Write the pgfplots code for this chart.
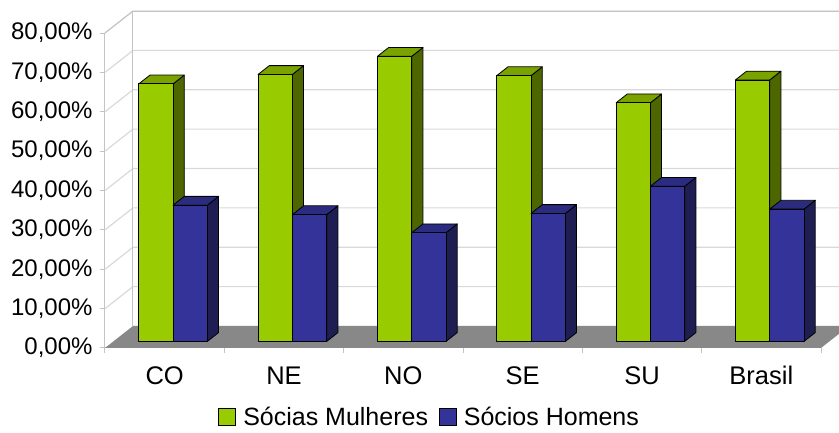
\documentclass[border=0pt]{standalone}
\usepackage{pgfplots}
\pgfplotsset{compat=1.18}
\usepackage{pgfplotstable}
\usepackage{fontspec}
\setmainfont{Liberation Sans}

\definecolor{mulherFront}{HTML}{99CC00}
\definecolor{mulherSide}{HTML}{4D6600}
\definecolor{mulherTop}{HTML}{7AA300}
\definecolor{homemFront}{HTML}{333399}
\definecolor{homemSide}{HTML}{1E1E52}
\definecolor{homemTop}{HTML}{2B2B80}
\definecolor{floorGray}{HTML}{888888}
\definecolor{wallGrid}{HTML}{D9D9D9}
\definecolor{wallEdge}{HTML}{C4C4C4}

% Share of female and male partners by region
\pgfplotstableread{
idx regiao mulheres homens
0   CO     65.4     34.6
1   NE     67.8     32.2
2   NO     72.4     27.6
3   SE     67.5     32.5
4   SU     60.6     39.4
5   Brasil 66.4     33.6
}\socios

% oblique depth of the floor in axis units, depth range of the boxes, box width
\def\dX{0.2346}
\def\dY{5.587}
\def\fA{0.3}
\def\fB{0.7}
\def\bw{0.2875}

% one 3-D box: #1 left edge in the front plane, #2 value, #3 colour prefix
\newcommand\caixa[3]{%
  \pgfmathsetmacro\cxA{#1+\fA*\dX}%
  \pgfmathsetmacro\cxB{\cxA+\bw}%
  \pgfmathsetmacro\cyA{\fA*\dY}%
  \pgfmathsetmacro\cyB{\cyA+#2}%
  \pgfmathsetmacro\cox{(\fB-\fA)*\dX}%
  \pgfmathsetmacro\coy{(\fB-\fA)*\dY}%
  \pgfmathsetmacro\cxC{\cxB+\cox}%
  \pgfmathsetmacro\cxD{\cxA+\cox}%
  \pgfmathsetmacro\cyC{\cyA+\coy}%
  \pgfmathsetmacro\cyD{\cyB+\coy}%
  \edef\caixaplots{%
    \noexpand\addplot[forget plot, fill=#3Side, draw=black, line width=0.8pt, line join=round]
      coordinates {(\cxB,\cyA) (\cxC,\cyC) (\cxC,\cyD) (\cxB,\cyB)} -- cycle;
    \noexpand\addplot[forget plot, fill=#3Top, draw=black, line width=0.8pt, line join=round]
      coordinates {(\cxA,\cyB) (\cxB,\cyB) (\cxC,\cyD) (\cxD,\cyD)} -- cycle;
    \noexpand\addplot[forget plot, fill=#3Front, draw=black, line width=0.8pt, line join=round]
      coordinates {(\cxA,\cyA) (\cxB,\cyA) (\cxB,\cyB) (\cxA,\cyB)} -- cycle;
  }%
  \caixaplots
}

\begin{document}
\begin{tikzpicture}
\useasboundingbox (0,0) rectangle (839pt,433pt);
\begin{axis}[
  at={(105pt,85pt)}, anchor=south west,
  scale only axis, width=716pt, height=315pt,
  xmin=-0.5, xmax=5.5, ymin=0, ymax=80,
  clip=false,
  axis x line*=bottom, axis y line*=left,
  axis line style={wallEdge, line width=1pt},
  tick align=outside,
  xtick={0,...,5},
  xticklabels={CO,NE,NO,SE,SU,Brasil},
  minor xtick={-0.5,0.5,...,5.5},
  every major x tick/.append style={draw=none},
  minor tick length=5pt,
  major tick length=5pt,
  tick style={wallEdge, line width=1pt},
  ytick={0,10,...,80},
  yticklabel={\pgfmathparse{int(\tick)}\pgfmathresult,00\%},
  yticklabel style={font=\fontsize{24}{28}\selectfont, xshift=-4pt},
  xticklabel style={font=\fontsize{25.5}{30}\selectfont, text height=19pt,
    text depth=0pt, yshift=-9pt},
  legend columns=2,
  legend image code/.code={\draw[#1] (0pt,-8.5pt) rectangle (17pt,8.5pt);},
  legend style={draw=none, fill=none, at={(0.457,-0.220)}, anchor=center,
    font=\fontsize{25}{30}\selectfont,
    nodes={inner xsep=7pt, inner ysep=0pt},
    /tikz/every even column/.append style={column sep=4pt}},
]

% side and back walls with their grid lines
\pgfplotsinvokeforeach{10,20,30,40,50,60,70,80}{%
  \pgfmathsetmacro\gxa{-0.5+\dX}%
  \pgfmathsetmacro\gya{#1+\dY}%
  \pgfmathsetmacro\gxb{5.5+\dX}%
  \edef\gridplot{\noexpand\addplot[forget plot, wallGrid, line width=1.2pt]
    coordinates {(-0.5,#1) (\gxa,\gya) (\gxb,\gya)};}%
  \gridplot
}
\pgfmathsetmacro\gxa{-0.5+\dX}
\pgfmathsetmacro\gya{\dY}
\pgfmathsetmacro\gyb{80+\dY}
\pgfmathsetmacro\gxb{5.5+\dX}
\edef\wallplots{%
  \noexpand\addplot[forget plot, wallEdge, line width=1pt]
    coordinates {(\gxa,\gya) (\gxa,\gyb) (\gxb,\gyb)};
  \noexpand\addplot[forget plot, wallEdge, line width=1pt]
    coordinates {(-0.5,80) (\gxa,\gyb)};
  \noexpand\addplot[forget plot, fill=floorGray, draw=none]
    coordinates {(-0.5,0) (5.5,0) (\gxb,\gya) (\gxa,\gya)} -- cycle;
}
\wallplots

% boxes: female partners on the left, male partners on the right of each region
\pgfplotsinvokeforeach{0,...,5}{%
  \pgfplotstablegetelem{#1}{mulheres}\of\socios
  \caixa{#1-\bw}{\pgfplotsretval}{mulher}%
}
\pgfplotsinvokeforeach{0,...,5}{%
  \pgfplotstablegetelem{#1}{homens}\of\socios
  \caixa{#1}{\pgfplotsretval}{homem}%
}

\addlegendimage{fill=mulherFront, draw=black, line width=0.8pt}
\addlegendentry{Sócias Mulheres}
\addlegendimage{fill=homemFront, draw=black, line width=0.8pt}
\addlegendentry{Sócios Homens}
\end{axis}
\end{tikzpicture}
\end{document}
